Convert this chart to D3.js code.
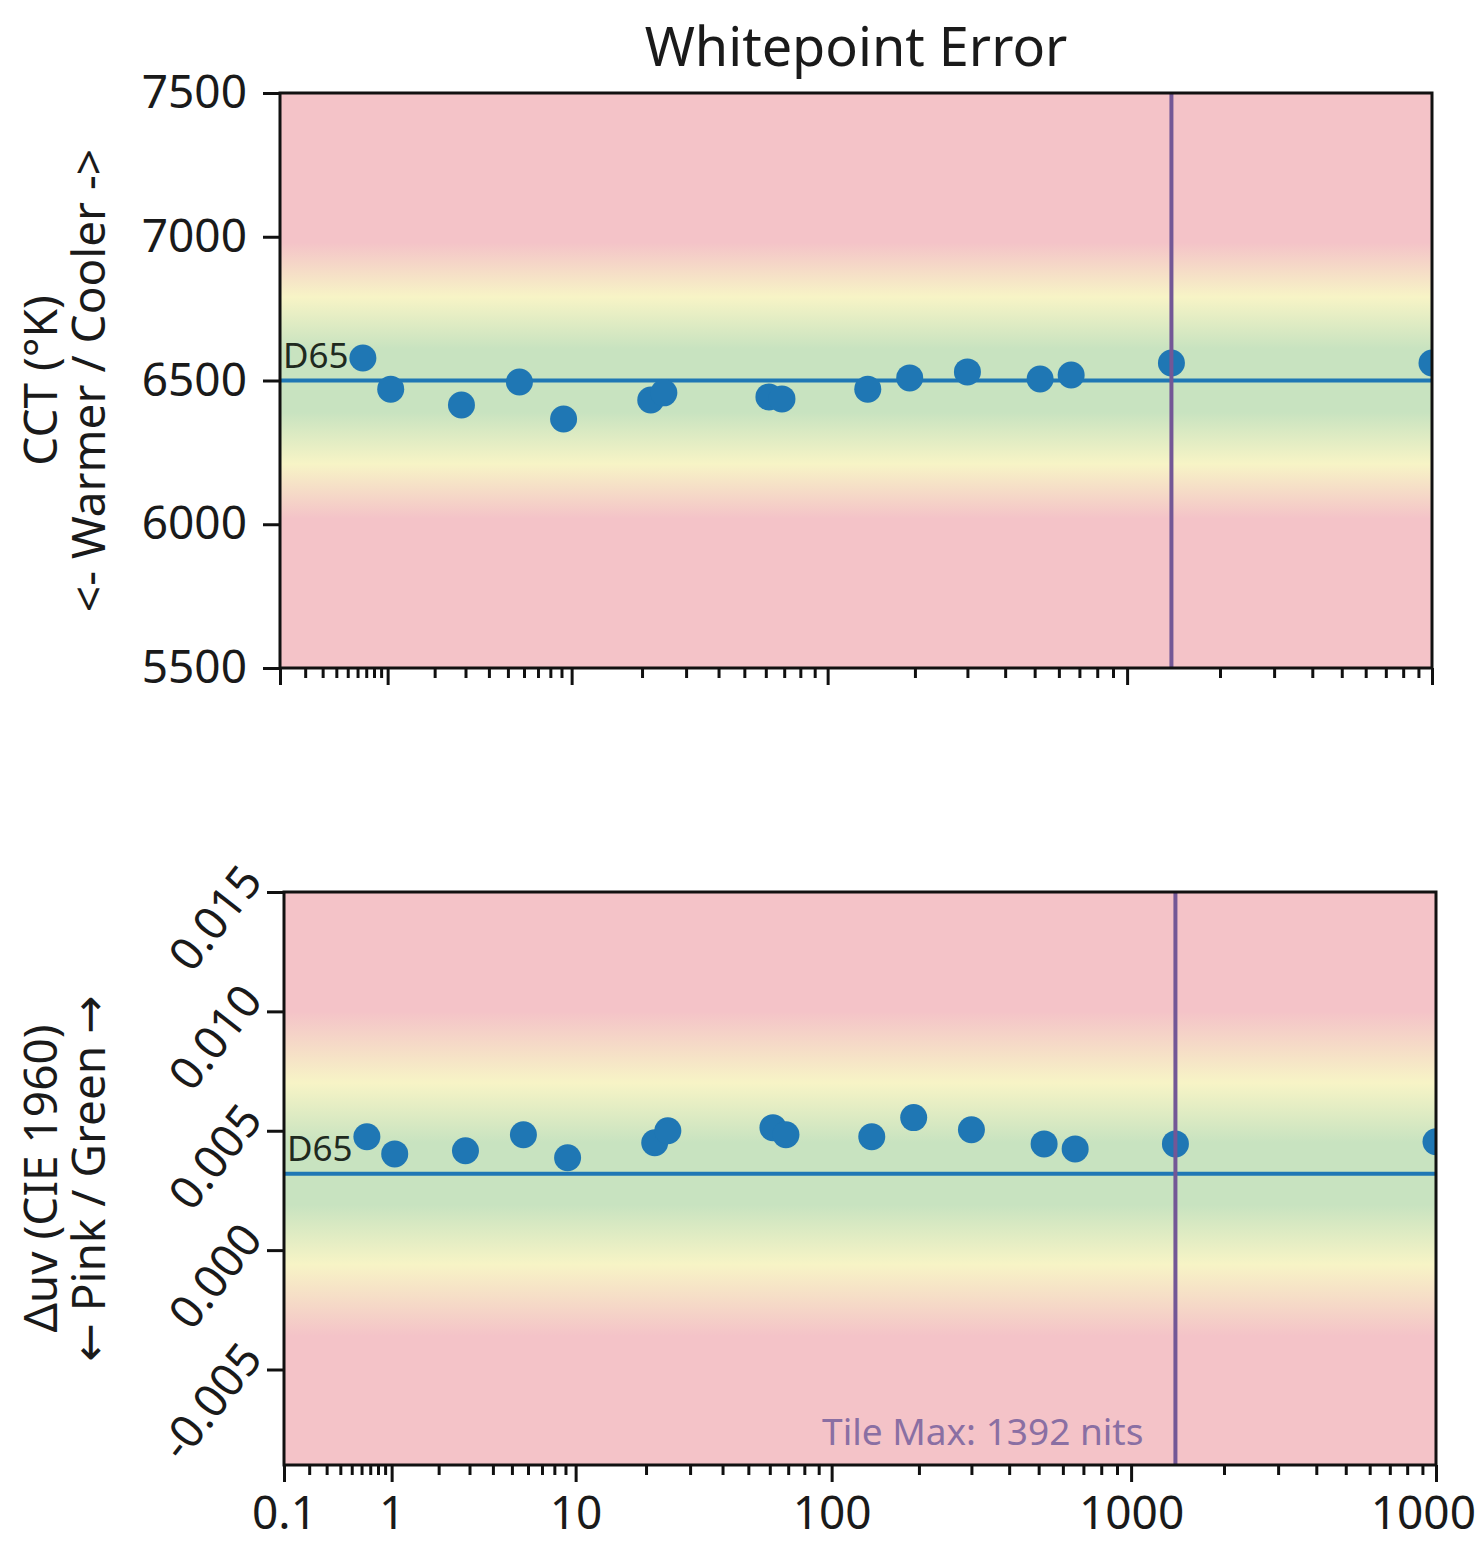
<!DOCTYPE html>
<html>
<head>
<meta charset="utf-8">
<script src="https://cdn.jsdelivr.net/npm/d3@7"></script>
<style>
  body { margin: 0; background: #fff; }
  svg { display: block; font-family: "Noto Sans", "DejaVu Sans", sans-serif; }
</style>
</head>
<body>
<svg id="vis" width="1477" height="1545"></svg>
<script>
// measured patch luminance (nits) and the whitepoint readings for each patch
const nits = [0.66, 1.05, 2.85, 5.7, 9.2, 21.7, 24.5, 61.6, 68.7, 138, 192, 300, 521, 658, 1392, 10000];
const cct = [6578, 6470, 6415, 6495, 6366, 6432, 6457, 6443, 6436, 6470, 6509, 6530, 6505, 6519, 6561, 6561];
const duv = [0.00475, 0.00403, 0.00416, 0.00483, 0.00387, 0.00450, 0.00500, 0.00513, 0.00483, 0.00475, 0.00555, 0.00504, 0.00445, 0.00424, 0.00445, 0.00454];

const nitTicks = [0.1, 1, 10, 100, 1000, 10000];
const nitTickLabels = ['0.1', '1', '10', '100', '1000', '10000'];
const cctTicks = [5500, 6000, 6500, 7000, 7500];
const duvTicks = [-0.005, 0, 0.005, 0.010, 0.015];
const duvTickLabels = ['-0.005', '0.000', '0.005', '0.010', '0.015'];

const d65Cct = 6500;
const d65Duv = 0.0032;
const tileMax = 1392;

// SMPTE ST 2084 (PQ) encode, the x axis is spaced by PQ code value
function pq(L) {
  const m1 = 0.1593017578125, m2 = 78.84375;
  const c1 = 0.8359375, c2 = 18.8515625, c3 = 18.6875;
  const y = Math.pow(L / 10000, m1);
  return Math.pow((c1 + c2 * y) / (1 + c3 * y), m2);
}

const minorNits = [];
[0.1, 1, 10, 100, 1000].forEach(d => d3.range(2, 10).forEach(k => minorNits.push(d * k)));

const pink = '#f4c3c8', yellow = '#f7f4c6', green = '#c8e3c0';
const blue = '#1f77b4';
const purple = '#735796';

const vis = d3.select('#vis');
const defs = vis.append('defs');

vis.append('text')
  .attr('x', 856)
  .attr('y', 66)
  .attr('text-anchor', 'middle')
  .attr('font-size', 54)
  .attr('fill', '#1a1a1a')
  .text('Whitepoint Error');

const panels = [
  {
    id: 'cct', left: 280, right: 1432, top: 93, bottom: 668,
    domain: [5500, 7500], values: cct, ticks: cctTicks, tickLabels: cctTicks.map(String),
    center: d65Cct, bands: [[-480, pink], [-290, yellow], [-110, green], [110, green], [290, yellow], [480, pink]],
    labels: ['CCT (°K)', '<- Warmer / Cooler ->'], xLabels: false, rotateY: false, tileText: false
  },
  {
    id: 'duv', left: 284, right: 1436, top: 892, bottom: 1465,
    domain: [-0.009, 0.015], values: duv, ticks: duvTicks, tickLabels: duvTickLabels,
    center: d65Duv, bands: [[-0.0068, pink], [-0.0038, yellow], [-0.0013, green], [0.0013, green], [0.0038, yellow], [0.0068, pink]],
    labels: ['Δuv (CIE 1960)', '← Pink / Green →'], xLabels: true, rotateY: true, tileText: true
  }
];

panels.forEach(p => {
  const x = d3.scaleLinear().domain([pq(0.1), pq(10000)]).range([p.left, p.right]);
  const y = d3.scaleLinear().domain(p.domain).range([p.bottom, p.top]);
  const h = p.bottom - p.top;

  // background gradient: green around D65, fading to yellow then pink
  const grad = defs.append('linearGradient')
    .attr('id', 'grad-' + p.id)
    .attr('gradientUnits', 'userSpaceOnUse')
    .attr('x1', 0).attr('x2', 0)
    .attr('y1', p.top).attr('y2', p.bottom);
  grad.selectAll('stop')
    .data(p.bands.slice().reverse())
    .enter()
      .append('stop')
      .attr('offset', d => Math.max(0, Math.min(1, (y(p.center + d[0]) - p.top) / h)))
      .attr('stop-color', d => d[1]);

  defs.append('clipPath')
    .attr('id', 'clip-' + p.id)
    .append('rect')
      .attr('x', p.left).attr('y', p.top)
      .attr('width', p.right - p.left).attr('height', h);

  const g = vis.append('g');

  g.append('rect')
    .attr('x', p.left).attr('y', p.top)
    .attr('width', p.right - p.left).attr('height', h)
    .attr('fill', 'url(#grad-' + p.id + ')');

  const plot = g.append('g').attr('clip-path', 'url(#clip-' + p.id + ')');

  plot.append('text')
    .attr('x', p.left + 3)
    .attr('y', y(p.center) - 13)
    .attr('font-size', 35)
    .attr('fill', '#1f2a1f')
    .text('D65');

  plot.append('line')
    .attr('x1', p.left).attr('x2', p.right)
    .attr('y1', y(p.center)).attr('y2', y(p.center))
    .attr('stroke', blue)
    .attr('stroke-width', 4);

  plot.selectAll('circle.point')
    .data(p.values)
    .enter()
      .append('circle')
      .classed('point', true)
      .attr('cx', (d, i) => x(pq(nits[i])))
      .attr('cy', d => y(d))
      .attr('r', 13.5)
      .attr('fill', blue);

  plot.append('line')
    .attr('x1', x(pq(tileMax))).attr('x2', x(pq(tileMax)))
    .attr('y1', p.top).attr('y2', p.bottom)
    .attr('stroke', purple)
    .attr('stroke-width', 4);

  if (p.tileText) {
    plot.append('text')
      .attr('x', x(pq(tileMax)) - 32)
      .attr('y', p.bottom - 20)
      .attr('text-anchor', 'end')
      .attr('font-size', 37)
      .attr('fill', '#8a6fa3')
      .text('Tile Max: ' + tileMax + ' nits');
  }

  // spines
  g.append('rect')
    .attr('x', p.left).attr('y', p.top)
    .attr('width', p.right - p.left).attr('height', h)
    .attr('fill', 'none')
    .attr('stroke', '#111')
    .attr('stroke-width', 3);

  // x axis, major + minor ticks
  const xAxis = g.append('g')
    .attr('transform', 'translate(0,' + p.bottom + ')')
    .call(d3.axisBottom(x)
      .tickValues(nitTicks.map(pq))
      .tickFormat((d, i) => p.xLabels ? nitTickLabels[i] : '')
      .tickSize(17).tickSizeOuter(0).tickPadding(14));
  g.append('g')
    .attr('transform', 'translate(0,' + p.bottom + ')')
    .call(d3.axisBottom(x)
      .tickValues(minorNits.map(pq))
      .tickFormat('')
      .tickSize(10).tickSizeOuter(0));

  // y axis
  const yAxis = g.append('g')
    .attr('transform', 'translate(' + p.left + ',0)')
    .call(d3.axisLeft(y)
      .tickValues(p.ticks)
      .tickFormat((d, i) => p.tickLabels[i])
      .tickSize(17).tickSizeOuter(0).tickPadding(16));

  // let the axis text inherit the page font
  g.selectAll('g').attr('font-family', null).attr('font-size', null);
  g.selectAll('.domain').remove();
  g.selectAll('.tick line').attr('stroke', '#111').attr('stroke-width', 3);
  g.selectAll('.tick text').attr('fill', '#1a1a1a').attr('font-size', 46);
  xAxis.selectAll('.tick text').attr('dy', '0.71em');

  if (p.rotateY) {
    yAxis.selectAll('.tick text')
      .attr('x', null)
      .attr('dy', null)
      .attr('dominant-baseline', 'central')
      .attr('text-anchor', 'end')
      .attr('transform', 'translate(-34,-22) rotate(-52)');
  }

  // y label, two lines
  const cy = (p.top + p.bottom) / 2;
  g.selectAll('text.ylabel')
    .data(p.labels)
    .enter()
      .append('text')
      .classed('ylabel', true)
      .attr('transform', (d, i) => 'translate(' + (57 + i * 48) + ',' + cy + ') rotate(-90)')
      .attr('text-anchor', 'middle')
      .attr('font-size', 46)
      .attr('fill', '#1a1a1a')
      .text(d => d);
});
</script>
</body>
</html>
